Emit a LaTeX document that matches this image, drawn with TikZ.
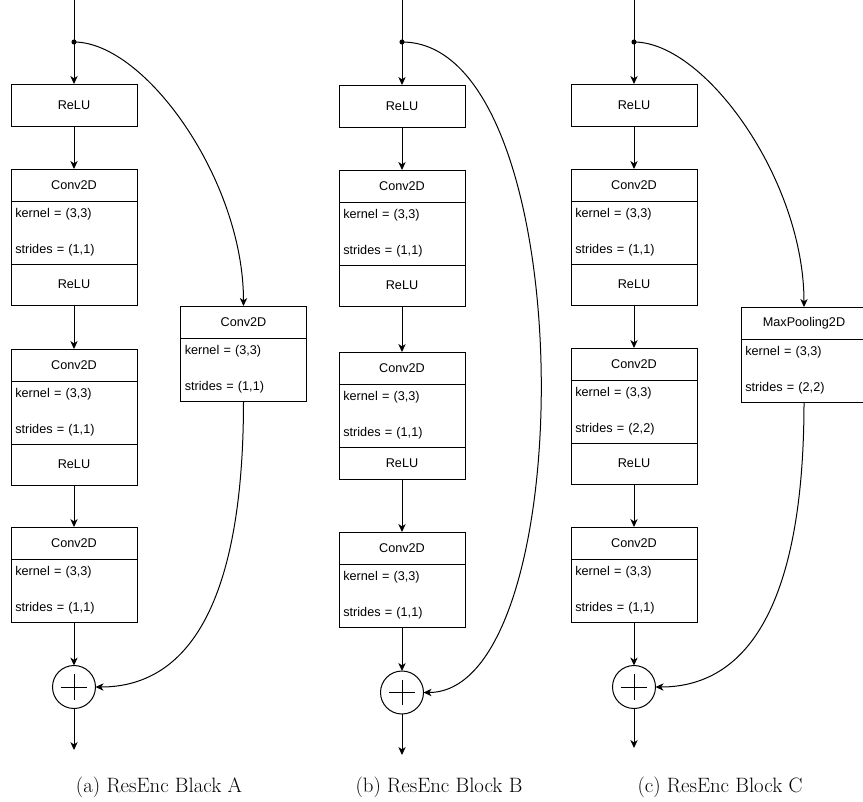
\documentclass[tikz,border=0pt]{standalone}
\usepackage{fontspec}
\newfontfamily\boxfont{Liberation Sans}
\usetikzlibrary{positioning,arrows.meta}

\begin{document}
\begin{tikzpicture}[
        x = .75pt,
        y = -.75pt,
        line width = .75pt,
        layer/.style = {draw, rectangle, minimum width=94.5pt, inner sep=0pt, outer sep=0pt,
            font=\boxfont\fontsize{9.5}{11}\selectfont},
        head/.style = {layer, minimum height=24pt},
        params/.style = {layer, minimum height=47.25pt, text width=88pt, align=left,
            font=\boxfont\fontsize{9.5}{27}\selectfont},
        act/.style = {layer, minimum height=30.75pt},
        actbox/.style = {layer, minimum height=31.5pt},
        adder/.style = {draw, circle, minimum size=32.25pt, inner sep=0pt, outer sep=0pt,
            path picture={
                \draw ([xshift=-9.4pt]path picture bounding box.center) -- ([xshift=9.4pt]path picture bounding box.center);
                \draw ([yshift=-9.4pt]path picture bounding box.center) -- ([yshift=9.4pt]path picture bounding box.center);
            }},
        flow/.style = {-{Stealth[length=6pt, width=5.5pt, inset=1.8pt]}},
        caption/.style = {font=\fontsize{15.6}{18}\selectfont, inner sep=0pt}
    ]
        \useasboundingbox (0,0) rectangle (863,801);

        % (a) block A
        \begin{scope}[shift={(74,0)}]
            \coordinate (a-in) at (0,0);
            \coordinate (a-split) at (0,42);
            \node[actbox, anchor=north] (a-relu) at (0,84) {ReLU};
            \node[head, anchor=north] (a-c1) at (0,169) {Conv2D};
            \node[params, below=0pt of a-c1] (a-c1p) {kernel = (3,3)\\strides = (1,1)};
            \node[act, below=0pt of a-c1p] (a-c1r) {ReLU};
            \node[head, anchor=north] (a-c2) at (0,349) {Conv2D};
            \node[params, below=0pt of a-c2] (a-c2p) {kernel = (3,3)\\strides = (1,1)};
            \node[act, below=0pt of a-c2p] (a-c2r) {ReLU};
            \node[head, anchor=north] (a-c3) at (0,527) {Conv2D};
            \node[params, below=0pt of a-c3] (a-c3p) {kernel = (3,3)\\strides = (1,1)};
            \node[adder] (a-add) at (0,687) {};
            \coordinate (a-out) at (0,750);
            \node[head, anchor=north] (a-sk) at (169.5,306) {Conv2D};
            \node[params, below=0pt of a-sk] (a-skp) {kernel = (3,3)\\strides = (1,1)};
            \node[caption, anchor=base] (a-cap) at (85,792) {(a) ResEnc Black A};

            \draw (a-in) -- (a-split);
            \fill (a-split) circle (1.9pt);
            \draw[flow] (a-split) -- (a-relu);
            \draw[flow] (a-relu) -- (a-c1);
            \draw[flow] (a-c1r) -- (a-c2);
            \draw[flow] (a-c2r) -- (a-c3);
            \draw[flow] (a-c3p) -- (a-add);
            \draw[flow] (a-add) -- (a-out);
            \draw[flow] (a-split) .. controls (71,42) and (169.5,180) .. (a-sk.north);
            \draw[flow] (a-skp.south) .. controls (169.5,590) and (121,687) .. (a-add.east);
        \end{scope}

        % (b) block B
        \begin{scope}[shift={(402,0)}]
            \coordinate (b-in) at (0,0);
            \coordinate (b-split) at (0,42);
            \node[actbox, anchor=north] (b-relu) at (0,85) {ReLU};
            \node[head, anchor=north] (b-c1) at (0,170) {Conv2D};
            \node[params, below=0pt of b-c1] (b-c1p) {kernel = (3,3)\\strides = (1,1)};
            \node[act, below=0pt of b-c1p] (b-c1r) {ReLU};
            \node[head, anchor=north] (b-c2) at (0,352) {Conv2D};
            \node[params, below=0pt of b-c2] (b-c2p) {kernel = (3,3)\\strides = (1,1)};
            \node[layer, minimum height=24pt, below=0pt of b-c2p] (b-c2r) {ReLU};
            \node[head, anchor=north] (b-c3) at (0,532) {Conv2D};
            \node[params, below=0pt of b-c3] (b-c3p) {kernel = (3,3)\\strides = (1,1)};
            \node[adder] (b-add) at (0,692.5) {};
            \coordinate (b-out) at (0,755);
            \node[caption, anchor=base] (b-cap) at (37,792) {(b) ResEnc Block B};

            \draw (b-in) -- (b-split);
            \fill (b-split) circle (1.9pt);
            \draw[flow] (b-split) -- (b-relu);
            \draw[flow] (b-relu) -- (b-c1);
            \draw[flow] (b-c1r) -- (b-c2);
            \draw[flow] (b-c2r) -- (b-c3);
            \draw[flow] (b-c3p) -- (b-add);
            \draw[flow] (b-add) -- (b-out);
            \draw[flow] (b-split) .. controls (181,42) and (181,692.5) .. (b-add.east);
        \end{scope}

        % (c) block C
        \begin{scope}[shift={(634,0)}]
            \coordinate (c-in) at (0,0);
            \coordinate (c-split) at (0,42);
            \node[actbox, anchor=north] (c-relu) at (0,84) {ReLU};
            \node[head, anchor=north] (c-c1) at (0,169) {Conv2D};
            \node[params, below=0pt of c-c1] (c-c1p) {kernel = (3,3)\\strides = (1,1)};
            \node[act, below=0pt of c-c1p] (c-c1r) {ReLU};
            \node[head, anchor=north] (c-c2) at (0,348) {Conv2D};
            \node[params, below=0pt of c-c2] (c-c2p) {kernel = (3,3)\\strides = (2,2)};
            \node[act, below=0pt of c-c2p] (c-c2r) {ReLU};
            \node[head, anchor=north] (c-c3) at (0,527) {Conv2D};
            \node[params, below=0pt of c-c3] (c-c3p) {kernel = (3,3)\\strides = (1,1)};
            \node[adder] (c-add) at (0,687) {};
            \coordinate (c-out) at (0,748);
            \node[head, anchor=north] (c-sk) at (170,307) {MaxPooling2D};
            \node[params, below=0pt of c-sk] (c-skp) {kernel = (3,3)\\strides = (2,2)};
            \node[caption, anchor=base] (c-cap) at (86,792) {(c) ResEnc Block C};

            \draw (c-in) -- (c-split);
            \fill (c-split) circle (1.9pt);
            \draw[flow] (c-split) -- (c-relu);
            \draw[flow] (c-relu) -- (c-c1);
            \draw[flow] (c-c1r) -- (c-c2);
            \draw[flow] (c-c2r) -- (c-c3);
            \draw[flow] (c-c3p) -- (c-add);
            \draw[flow] (c-add) -- (c-out);
            \draw[flow] (c-split) .. controls (71,42) and (170,180) .. (c-sk.north);
            \draw[flow] (c-skp.south) .. controls (170,590) and (121,687) .. (c-add.east);
        \end{scope}
    \end{tikzpicture}
\end{document}
